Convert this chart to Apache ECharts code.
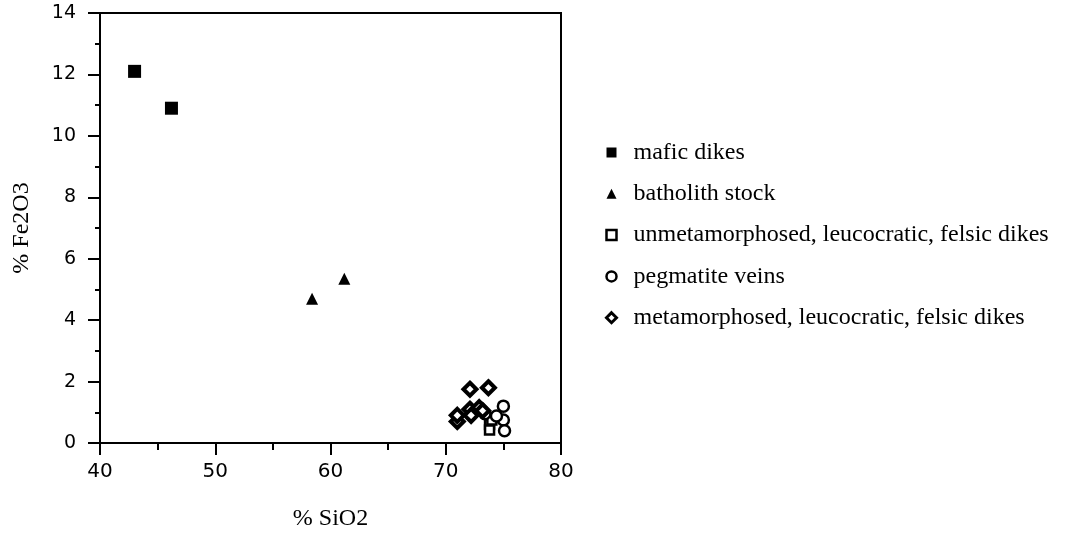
<!DOCTYPE html>
<html>
<head>
<meta charset="utf-8">
<script src="https://cdn.jsdelivr.net/npm/echarts@6/dist/echarts.min.js"></script>
<style>
html,body{margin:0;padding:0;background:#fff;}
#c{width:1091px;height:538px;}
</style>
</head>
<body>
<div id="c"></div>
<script>
const seriesNames = ['mafic dikes', 'batholith stock', 'unmetamorphosed, leucocratic, felsic dikes', 'pegmatite veins', 'metamorphosed, leucocratic, felsic dikes'];
const maficDikes = [[43.0, 12.1], [46.2, 10.9]];
const batholithStock = [[58.4, 4.7], [61.2, 5.35]];
const unmetaDikes = [[73.8, 0.6], [73.8, 0.42], [74.0, 0.75]];
const pegmatiteVeins = [[75.0, 1.2], [75.0, 0.75], [75.1, 0.4], [74.4, 0.88], [73.4, 0.95]];
const metaDikes = [[72.1, 1.75], [73.7, 1.8], [71.0, 0.7], [71.0, 0.9], [72.1, 1.1], [72.9, 1.15], [72.2, 0.9], [73.2, 1.05]];
const xTicks = [40, 50, 60, 70, 80];
const yTicks = [0, 2, 4, 6, 8, 10, 12, 14];

const chart = echarts.init(document.getElementById('c'), null, {renderer: 'canvas'});
const open = {color: '#fff', borderColor: '#000', borderWidth: 2.5, opacity: 1};
chart.setOption({
  animation: false,
  backgroundColor: '#fff',
  grid: {left: 100, right: 530, top: 13, bottom: 95, show: true, borderColor: '#000', borderWidth: 2, backgroundColor: 'transparent'},
  xAxis: {
    type: 'value', min: xTicks[0], max: xTicks[xTicks.length - 1], interval: 10,
    name: '% SiO2', nameLocation: 'middle', nameGap: 64,
    nameTextStyle: {fontFamily: 'Liberation Serif', fontSize: 24, color: '#000'},
    axisLine: {lineStyle: {color: '#000', width: 2}},
    axisTick: {length: 12, lineStyle: {color: '#000', width: 2}},
    minorTick: {show: true, splitNumber: 2, length: 7, lineStyle: {color: '#000', width: 2}},
    axisLabel: {margin: 19, fontFamily: 'DejaVu Sans', fontSize: 20, color: '#000'},
    splitLine: {show: false}
  },
  yAxis: {
    type: 'value', min: yTicks[0], max: yTicks[yTicks.length - 1], interval: 2,
    name: '% Fe2O3', nameLocation: 'middle', nameGap: 66, nameRotate: 90,
    nameTextStyle: {fontFamily: 'Liberation Serif', fontSize: 24, color: '#000', padding: [0, 0, 0, 0]},
    axisLine: {lineStyle: {color: '#000', width: 2}},
    axisTick: {length: 12, lineStyle: {color: '#000', width: 2}},
    minorTick: {show: true, splitNumber: 2, length: 5, lineStyle: {color: '#000', width: 2}},
    axisLabel: {margin: 24, fontFamily: 'DejaVu Sans', fontSize: 19, color: '#000'},
    splitLine: {show: false}
  },
  legend: {
    orient: 'vertical', left: 600, top: 134, itemWidth: 10, itemHeight: 10, itemGap: 14.3,
    textStyle: {fontFamily: 'Liberation Serif', fontSize: 24, color: '#000', lineHeight: 27, padding: [0, 0, 0, 12]},
    data: [
      {name: seriesNames[0], icon: 'rect', itemStyle: {color: '#000', borderWidth: 0, opacity: 1}},
      {name: seriesNames[1], icon: 'triangle', itemStyle: {color: '#000', borderWidth: 0, opacity: 1}},
      {name: seriesNames[2], icon: 'rect', itemStyle: {color: '#fff', borderColor: '#000', borderWidth: 2.5, opacity: 1}},
      {name: seriesNames[3], icon: 'circle', itemStyle: {color: '#fff', borderColor: '#000', borderWidth: 2.5, opacity: 1}},
      {name: seriesNames[4], icon: 'diamond', itemStyle: {color: '#fff', borderColor: '#000', borderWidth: 3, opacity: 1}}
    ]
  },
  series: [
    {name: seriesNames[0], type: 'scatter', symbol: 'rect', symbolSize: 13, itemStyle: {color: '#000', opacity: 1}, data: maficDikes},
    {name: seriesNames[1], type: 'scatter', symbol: 'triangle', symbolSize: 12, itemStyle: {color: '#000', opacity: 1}, data: batholithStock},
    {name: seriesNames[2], type: 'scatter', symbol: 'rect', symbolSize: 9, itemStyle: open, data: unmetaDikes},
    {name: seriesNames[3], type: 'scatter', symbol: 'circle', symbolSize: 11, itemStyle: open, data: pegmatiteVeins},
    {name: seriesNames[4], type: 'scatter', symbol: 'diamond', symbolSize: 13, itemStyle: {color: '#fff', borderColor: '#000', borderWidth: 4, opacity: 1}, data: metaDikes}
  ]
});
</script>
</body>
</html>
